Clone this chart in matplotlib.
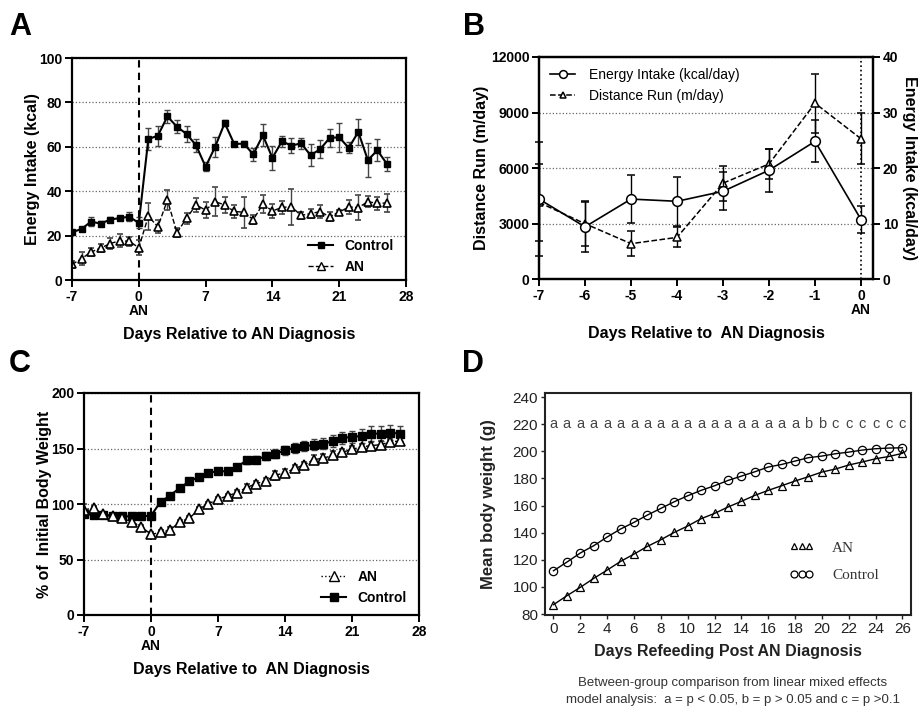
import numpy as np
import matplotlib.pyplot as plt
from matplotlib.lines import Line2D

plt.rcParams['font.family'] = ['Liberation Sans', 'DejaVu Sans']
plt.rcParams['axes.unicode_minus'] = False

## Panel A: energy intake
days_a = np.arange(-7, 27)
ctrl_a = [21.5, 23, 26.3, 25.4, 27.2, 27.9, 28.5, 25.7, 63.5, 65, 73.7, 69, 65.8, 60.7, 51, 60, 70.7,
          61.3, 61.4, 56.6, 65.2, 55, 62.5, 60.5, 61.6, 56.2, 58.9, 64, 64.3, 59.5, 66.7, 54, 58.4, 52.3]
ctrl_a_err = [1, 1, 2, 1, 1, 1, 2, 2.5, 5, 4.5, 3, 3, 3.5, 3, 2, 4.5, 1.5,
              1, 1, 3, 5, 5.5, 2.5, 3.5, 2.5, 5, 4, 4, 6.5, 2.5, 6, 7.5, 5, 3]
an_a = [7, 9.6, 12.6, 14.4, 16.4, 17.7, 17.4, 14.6, 28.7, 24, 36, 21.3, 27.8, 33.8, 31.5, 35.3, 33.8,
        30.9, 30.5, 27.2, 34.2, 31.1, 32.7, 33, 29.1, 29.9, 30.8, 28.5, 30.6, 32.9, 32.6, 35.3, 34.5, 34.7]
an_a_err = [1.5, 3, 2, 2, 2.5, 3, 2, 3.5, 6, 3, 4.5, 2, 2.5, 3, 3.5, 6.5, 3.5,
            3, 7, 2, 4, 3, 3, 8, 1.5, 2, 3, 2, 1, 3, 5.5, 2.5, 3, 4]

## Panel B: before diagnosis
days_b = np.arange(-7, 1)
dist_b = [4140, 2990, 1910, 2250, 5180, 6220, 9500, 7580]
dist_b_err = [2090, 1190, 670, 540, 940, 810, 1600, 1390]
ei_b = [14.4, 9.4, 14.4, 14.0, 15.8, 19.6, 24.8, 10.7]
ei_b_err = [10.2, 4.6, 4.3, 4.4, 3.4, 3.9, 3.8, 2.4]

## Panel C: % initial body weight
days_c = np.arange(-7, 27)
ctrl_c = [90.9, 90.3, 89.7, 89.4, 88.8, 89, 89, 89.4, 102, 107.6, 114.5, 120.3, 124.4, 128.3, 129.5, 129.5, 133.4,
          139.4, 140, 143, 145.1, 148.4, 150.8, 152, 153.2, 154.1, 156.8, 159.5, 160.4, 161.3, 163.4, 163.4, 164.3, 163.4]
ctrl_c_err = [2, 2, 2, 2, 2, 2, 2, 2, 2, 2, 2, 2, 2, 2, 2, 2.5, 2.5,
              3, 3.5, 3.5, 4, 4, 4.5, 4.5, 5, 5, 5, 5.5, 5.5, 6, 6.5, 6.5, 6.5, 6.5]
an_c = [95, 96, 90.9, 89.4, 87, 84, 79.5, 72.6, 74.4, 76.5, 84, 87, 95.4, 100.2, 104.3, 107.3, 110.3,
        114.8, 118.4, 120.8, 126, 128, 132, 135.2, 140, 141.2, 143.9, 146.6, 149.3, 151.4, 152.6, 153.5, 155.9, 156.8]
an_c_err = [5, 2, 1.5, 1.5, 1.5, 2, 2, 2, 2, 3, 2, 2, 2, 2, 2, 2, 2,
            3, 2.5, 3, 4, 3.5, 3, 3, 4, 3.5, 3.5, 3, 3, 3, 3, 3, 3, 3]

## Panel D: modelled mean body weight
days_d = np.arange(0, 27)
ctrl_d = [111.9, 118.3, 125, 130.4, 136.8, 142.7, 147.6, 153, 157.9, 162.8, 167.2, 171.2, 174.6, 178.5,
          181.7, 184.9, 188.4, 190.3, 192.8, 195.3, 196.5, 198.2, 199.4, 200.9, 201.9, 202.4, 202.6]
an_d = [86.9, 93.5, 99.7, 106.3, 112.4, 118.8, 124.2, 129.9, 134.8, 140.2, 144.9, 150.3, 154.2, 158.9,
        163.1, 167.5, 171.2, 174.6, 178.1, 181.3, 184.7, 186.9, 189.9, 192.1, 194.5, 196.2, 198.5]
letters_d = list('aaaaaaaaaaaaaaaaaaa') + ['b', 'b'] + list('cccccc')

W, H = 919, 708
fig = plt.figure(figsize=(W / 100, H / 100), dpi=100)


def box(l, t, r, b):
    return [l / W, 1 - b / H, (r - l) / W, (b - t) / H]


def style(ax, bold=True, size=10):
    for s in ax.spines.values():
        s.set_linewidth(1.6)
    ax.tick_params(width=1.4, length=5, labelsize=size, pad=2)
    if bold:
        for lab in ax.get_xticklabels() + ax.get_yticklabels():
            lab.set_fontweight('bold')


ebkw = dict(capsize=2.5, elinewidth=1, capthick=1, ecolor='#444')

## ---- A
axA = fig.add_axes(box(72, 58, 406, 280))
axA.grid(axis='y', ls=':', color='#666', lw=0.9)
axA.set_axisbelow(True)
axA.axvline(0, color='k', ls=(0, (3.5, 2.5)), lw=1.5)
axA.errorbar(days_a, an_a, yerr=an_a_err, fmt='--^', color='k', mfc='white', ms=6, lw=1, mew=1.2, **ebkw)
axA.errorbar(days_a, ctrl_a, yerr=ctrl_a_err, fmt='-s', color='k', ms=5, lw=1.5, **ebkw)
axA.set_xlim(-7, 28)
axA.set_ylim(0, 100)
axA.set_xticks([-7, 0, 7, 14, 21, 28])
axA.set_yticks([0, 20, 40, 60, 80, 100])
style(axA)
axA.text(0, -0.14, 'AN', transform=axA.get_xaxis_transform(), ha='center', va='center',
         fontsize=10, fontweight='bold')
axA.set_ylabel('Energy Intake (kcal)', fontsize=11.5, fontweight='bold')
axA.yaxis.set_label_coords(-0.095, 0.5)
axA.set_xlabel('Days Relative to AN Diagnosis', fontsize=11.5, fontweight='bold')
axA.xaxis.set_label_coords(0.5, -0.21)
hA = [Line2D([], [], color='k', marker='s', ms=5, lw=1.5),
      Line2D([], [], color='k', marker='^', mfc='white', ms=6, ls='--', lw=1)]
axA.legend(hA, ['Control', 'AN'], loc='lower right', bbox_to_anchor=(1.0, -0.03), frameon=False,
           prop={'weight': 'bold', 'size': 10}, handlelength=1.8, handletextpad=0.8, labelspacing=0.5)

## ---- B
axB = fig.add_axes(box(539, 57, 873, 279))
axB.grid(axis='y', ls=':', color='#666', lw=0.9)
axB.set_axisbelow(True)
axB.axvline(0, color='k', ls=':', lw=1.2)
hd = axB.errorbar(days_b, dist_b, yerr=dist_b_err, fmt='--^', color='k', mfc='white', ms=6, lw=1.1, mew=1.1,
                  capsize=3, elinewidth=1, capthick=1, ecolor='k')
for art in hd.lines[1] + hd.lines[2]:
    art.set_clip_on(False)
axB.set_xlim(-7, 0.26)
axB.set_ylim(0, 12000)
axB.set_xticks(days_b)
axB.set_yticks([0, 3000, 6000, 9000, 12000])
axB2 = axB.twinx()
he = axB2.errorbar(days_b, ei_b, yerr=ei_b_err, fmt='-o', color='k', mfc='white', ms=7, lw=1.2, mew=1.1,
                   capsize=3, elinewidth=1, capthick=1, ecolor='k')
for art in he.lines[1] + he.lines[2]:
    art.set_clip_on(False)
axB2.set_ylim(0, 40)
axB2.set_yticks([0, 10, 20, 30, 40])
style(axB)
style(axB2)
axB.text(0, -0.14, 'AN', transform=axB.get_xaxis_transform(), ha='center', va='center',
         fontsize=10, fontweight='bold')
axB.set_ylabel('Distance Run (m/day)', fontsize=11.5, fontweight='bold')
axB.yaxis.set_label_coords(-0.15, 0.5)
axB2.set_ylabel('Energy Intake (kcal/day)', fontsize=11.5, fontweight='bold', rotation=270,
                ha='center', va='center')
axB2.yaxis.set_label_coords(1.11, 0.5)
axB.set_xlabel('Days Relative to  AN Diagnosis', fontsize=11.5, fontweight='bold')
axB.xaxis.set_label_coords(0.5, -0.21)
axB2.legend([he[0], hd[0]], ['Energy Intake (kcal/day)', 'Distance Run (m/day)'], loc='upper left',
            frameon=False, fontsize=10, handlelength=1.8, handletextpad=1.0, borderaxespad=0.4,
            markerscale=0.8)

## ---- C
axC = fig.add_axes(box(84, 393, 419, 615))
axC.grid(axis='y', ls=':', color='#666', lw=0.9)
axC.set_axisbelow(True)
axC.axvline(0, color='k', ls=(0, (3.5, 2.5)), lw=1.5)
axC.errorbar(days_c, ctrl_c, yerr=ctrl_c_err, fmt='-s', color='k', ms=6, lw=1.5, **ebkw)
axC.errorbar(days_c, an_c, yerr=an_c_err, fmt='--^', color='k', mfc='white', ms=7, lw=1, mew=1.2, **ebkw)
axC.set_xlim(-7, 28)
axC.set_ylim(0, 200)
axC.set_xticks([-7, 0, 7, 14, 21, 28])
axC.set_yticks([0, 50, 100, 150, 200])
style(axC)
axC.text(0, -0.14, 'AN', transform=axC.get_xaxis_transform(), ha='center', va='center',
         fontsize=10, fontweight='bold')
axC.set_ylabel('% of  Initial Body Weight', fontsize=11.5, fontweight='bold')
axC.yaxis.set_label_coords(-0.095, 0.5)
axC.set_xlabel('Days Relative to  AN Diagnosis', fontsize=11.5, fontweight='bold')
axC.xaxis.set_label_coords(0.5, -0.21)
hC = [Line2D([], [], color='k', marker='^', mfc='white', ms=7, ls=':', lw=1),
      Line2D([], [], color='k', marker='s', ms=6, lw=1.5)]
axC.legend(hC, ['AN', 'Control'], loc='lower right', bbox_to_anchor=(1.0, -0.01), frameon=False,
           prop={'weight': 'bold', 'size': 10}, handlelength=1.8, handletextpad=0.8, labelspacing=0.5)

## ---- D
axD = fig.add_axes(box(545, 393, 911, 615))
axD.plot(days_d, ctrl_d, '-o', color='k', mfc='none', ms=6, lw=1, mew=0.9)
axD.plot(days_d, an_d, '-^', color='k', mfc='none', ms=5.5, lw=1, mew=0.9)
for d, s in zip(days_d, letters_d):
    axD.text(d, 220, s, ha='center', va='center', color='#444', fontsize=10.5)
axD.set_xlim(-0.63, 26.64)
axD.set_ylim(79.3, 243)
axD.set_xticks(np.arange(0, 27, 2))
axD.set_yticks(np.arange(80, 241, 20))
for s in axD.spines.values():
    s.set_linewidth(1.5)
    s.set_color('#222')
axD.tick_params(width=1, length=3, labelsize=11, pad=2, colors='#222')
axD.set_ylabel('Mean body weight (g)', fontsize=12, fontweight='bold', color='#222')
axD.yaxis.set_label_coords(-0.135, 0.5)
axD.set_xlabel('Days Refeeding Post AN Diagnosis', fontsize=11.5, fontweight='bold', color='#222')
axD.xaxis.set_label_coords(0.5, -0.13)
hD = [Line2D([], [], ls='none', marker='^', mfc='none', mec='k', ms=4.5, mew=0.9),
      Line2D([], [], ls='none', marker='o', mfc='none', mec='k', ms=5, mew=0.9)]
axD.legend(hD, ['AN', 'Control'], numpoints=3, loc='center left', bbox_to_anchor=(0.63, 0.24),
           frameon=False, prop={'family': 'Liberation Serif', 'size': 11}, labelcolor='#333',
           handlelength=1.6, handletextpad=1.2, labelspacing=0.9)
fig.text(733 / W, 1 - 683 / H, 'Between-group comparison from linear mixed effects', ha='center',
         va='center', fontsize=9.5, color='#333')
fig.text(733 / W, 1 - 700 / H, 'model analysis:  a = p < 0.05, b = p > 0.05 and c = p >0.1', ha='center',
         va='center', fontsize=9.5, color='#333')

## panel letters
for x, y, s in [(9, 35, 'A'), (463, 35, 'B'), (9, 372, 'C'), (462, 372, 'D')]:
    fig.text(x / W, 1 - y / H, s, fontsize=22, fontweight='bold', va='baseline')

fig.savefig('out.png', dpi=100)
